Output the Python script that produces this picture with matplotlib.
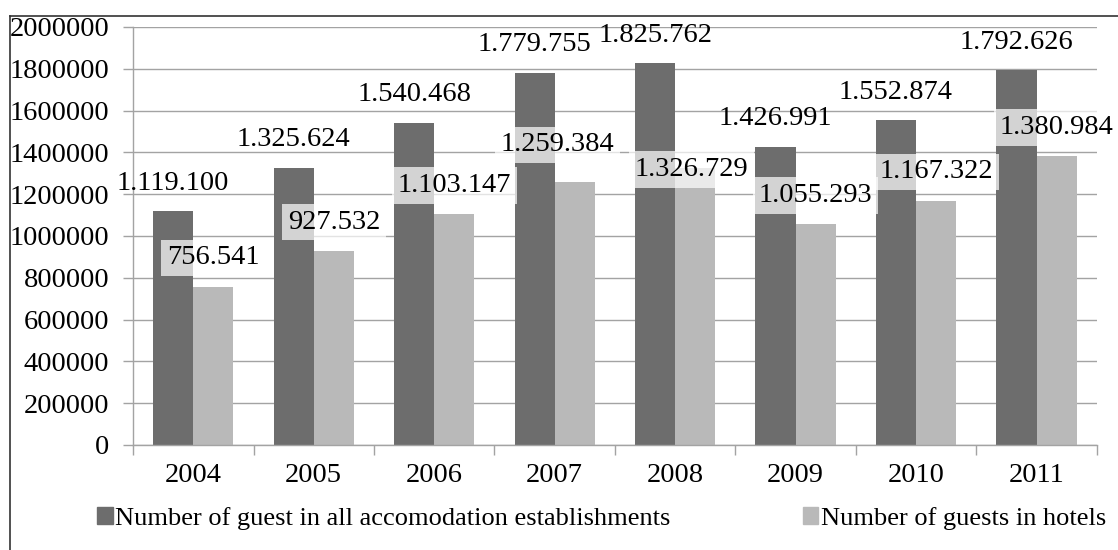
import matplotlib.pyplot as plt
import numpy as np
from matplotlib.lines import Line2D
from matplotlib.patches import Patch

years = ["2004", "2005", "2006", "2007", "2008", "2009", "2010", "2011"]
guests_all = [1119100, 1325624, 1540468, 1779755, 1825762, 1426991, 1552874, 1792626]
guests_hotels = [756541, 927532, 1103147, 1259384, 1326729, 1055293, 1167322, 1380984]

# hand-placed hotel labels (pixel nudges from the default spot)
hotel_label_nudge = {"2007": (-17, 8), "2008": (-4, -31)}

DARK = "#6d6d6d"
LIGHT = "#b9b9b9"
GRID = "#a3a3a3"
FS = 20.5

plt.rcParams["font.family"] = ["Liberation Serif", "DejaVu Serif"]


def dotted(v):
    return f"{v:,}".replace(",", ".")


fig = plt.figure(figsize=(11.18, 5.5), dpi=100)
ax = fig.add_axes([0.119, 0.191, 0.862, 0.760])

x = np.arange(len(years))
w = 1 / 3
b1 = ax.bar(x - w / 2, guests_all, w, color=DARK, zorder=2)
b2 = ax.bar(x + w / 2, guests_hotels, w, color=LIGHT, zorder=2)

for rect, v in zip(b1, guests_all):
    ax.annotate(dotted(v), (rect.get_x() + rect.get_width() / 2, v),
                xytext=(0, 28), textcoords="offset pixels",
                ha="center", va="center", fontsize=FS, zorder=4)

for yr, rect, v in zip(years, b2, guests_hotels):
    dx, dy = hotel_label_nudge.get(yr, (0, 0))
    ax.annotate(dotted(v), (rect.get_x() + rect.get_width() / 2, v),
                xytext=(dx, 29 + dy), textcoords="offset pixels",
                ha="center", va="center", fontsize=FS, zorder=5,
                bbox=dict(boxstyle="square,pad=0.2", fc="white", ec="none", alpha=0.7))

ax.set_xlim(-0.5, len(years) - 0.5)
ax.set_ylim(0, 2000000)
ax.set_yticks(np.arange(0, 2000001, 200000))
ax.set_yticklabels([str(t) for t in range(0, 2000001, 200000)])
ax.set_xticks(np.arange(len(years) + 1) - 0.5, minor=True)
ax.set_xticks(x)
ax.set_xticklabels(years)
ax.tick_params(axis="x", which="major", length=0, pad=13, labelsize=FS)
ax.tick_params(axis="x", which="minor", length=7, color=GRID, width=1)
ax.tick_params(axis="y", length=7, color=GRID, width=1, pad=10, labelsize=FS)

ax.grid(axis="y", color=GRID, lw=1, zorder=0)
ax.set_axisbelow(True)
for s in ["top", "right"]:
    ax.spines[s].set_visible(False)
for s in ["left", "bottom"]:
    ax.spines[s].set_color(GRID)
    ax.spines[s].set_linewidth(1)

handles = [Patch(color=DARK), Patch(color=LIGHT)]
labels = ["Number of guest in all accomodation establishments", "Number of guests in hotels"]
fig.legend(handles, labels, loc="center", bbox_to_anchor=(0.538, 0.057), ncol=2,
           frameon=False, fontsize=19, handlelength=0.6, handleheight=0.6,
           handletextpad=0.1, columnspacing=5.0)

# outer frame, only top and left edges show
fig.add_artist(Line2D([10 / 1118, 1], [1 - 16 / 550] * 2, color="#333333", lw=1.2))
fig.add_artist(Line2D([10 / 1118] * 2, [0, 1 - 16 / 550], color="#333333", lw=1.2))

fig.savefig("out.png", dpi=100)
